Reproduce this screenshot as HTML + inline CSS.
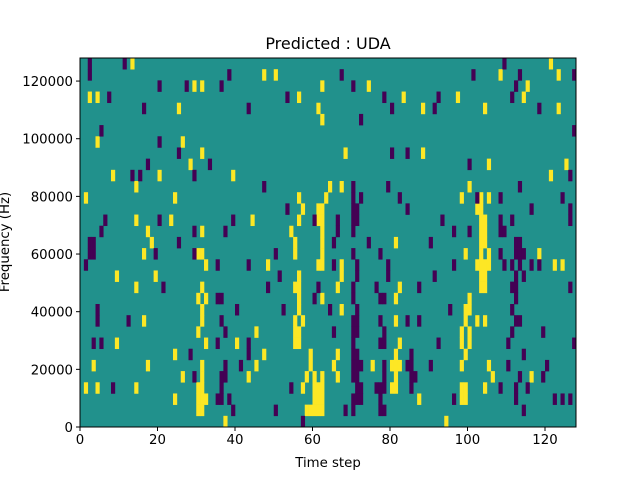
<!DOCTYPE html>
<html><head><meta charset="utf-8"><style>
html,body{margin:0;padding:0;background:#fff;}
svg{display:block;font-family:"DejaVu Sans","Liberation Sans",sans-serif;}
</style></head><body>
<svg id="chart" width="640" height="480" viewBox="0 0 640 480" xmlns="http://www.w3.org/2000/svg">
<rect width="640" height="480" fill="#fff"/>
<text x="328" y="49" font-size="16" text-anchor="middle" fill="#000">Predicted : UDA</text>
<g id="plot"></g>
<g id="axes"></g>
<text x="328" y="467" font-size="13.3" text-anchor="middle" fill="#000">Time step</text>
<text transform="translate(9,242) rotate(-90)" font-size="13.3" text-anchor="middle" fill="#000">Frequency (Hz)</text>
</svg>
<script>
// Data: rows listed from top (row 0 = highest frequency bin), value = time step columns
const numTimeSteps = 128;
const numFreqBins = 33;
const freqMax = 128000;
const xTickLabels = [0, 20, 40, 60, 80, 100, 120];
const yTickLabels = [0, 20000, 40000, 60000, 80000, 100000, 120000];
const highCells = [
[13,121],[47,50,108,123],[29,31,62,74,115],[2,4,56,83,97,114],[25,61,88,104,123],
[62],[],[4,26],[31,68,88],[28,105,125],[8,20,39,121],[14,64,67,100],
[1,24,56,63,98,103,105],[57,61,62,102,103],[14,23,44,56,61,62,103,104],[17,31,54,62,103,104],
[18,55,62,81,103,104],[16,30,31,55,62,99,103,105,118],[32,48,61,62,67,102,103,104,105,122,124],
[9,19,56,67,103,104],[14,31,55,56,66,82,103,104],[30,32,56,62,81,100],[31,56,67,99,100],
[16,31,55,57,81,99,102,104],[30,45,55,56,98,100],[9,32,40,55,56,82,98,100],[24,47,59,66,81,99],
[3,17,31,45,59,65,75,80,81,82,98,105],[26,31,43,58,60,62,66,81,106,116],
[1,4,14,30,31,57,60,61,62,80,81,98,99,104],[24,30,31,32,60,61,62,87,98,99],
[30,31,58,59,60,61,62],[37,94]
];
const lowCells = [
[2,11,109],[2,38,67,101,113,127],[20,27,36,70,112],[7,53,78,92,111],[16,43,80,91,118],
[72],[5,127],[20],[25,80,84],[17,33,100],[13,15,29,126],[47,70,79,113],
[70,72,82,102,108,124],[53,70,71,84,116,126],[6,20,39,60,66,70,71,93,108,111,126],
[5,29,37,66,70,96,100,108,109],[2,3,25,65,74,90,112,113],[2,3,19,29,50,70,77,108,112,113,114],
[1,35,43,65,71,79,96,109,111,113,116,118],[51,71,79,91,112,114],[21,48,61,70,76,87,111,112,126],
[35,36,60,70,77,78,112],[4,40,52,64,71,95,111],[4,12,36,70,71,77,84,87,112,113],
[37,65,70,71,78,111,119],[3,5,35,43,70,77,78,92,110,127],[28,43,70,71,85,114],
[37,41,70,71,72,78,84,85,90,110,120],[29,36,37,70,71,78,85,86,113,119],
[8,36,54,71,72,76,77,78,85,108,112,115],[35,36,38,70,71,72,77,96,112,122,124,126],
[39,50,68,70,77,78,114],[57]
];

const NS = "http://www.w3.org/2000/svg";
const L = 80, R = 576, T = 58, B = 427;
const xScale = t => L + (t / numTimeSteps) * (R - L);
const yScale = f => B - (f / freqMax) * (B - T);
const binH = freqMax / numFreqBins;
const plot = document.getElementById('plot');
const axes = document.getElementById('axes');

function mk(tag, attrs, parent) {
  const e = document.createElementNS(NS, tag);
  for (const k in attrs) e.setAttribute(k, attrs[k]);
  parent.appendChild(e);
  return e;
}
const bg = mk('rect', {x: L, y: T, width: R - L, height: B - T, fill: '#21918c'}, plot);



function drawCells(list, color, name) {
  list.forEach((cols, r) => {
    const bin = numFreqBins - 1 - r;
    cols.forEach(c => {
      const x0 = xScale(c), x1 = xScale(c + 1);
      const y0 = yScale((bin + 1) * binH), y1 = yScale(bin * binH);
      const cell = mk('rect', {x: x0, y: y0, width: x1 - x0 + 0.3, height: y1 - y0 + 0.3, fill: color}, plot);
      
      
    });
  });
}
drawCells(highCells, '#fde725', 'heatmap-cell-high');
drawCells(lowCells, '#440154', 'heatmap-cell-low');

const frame = mk('rect', {x: L, y: T, width: R - L, height: B - T, fill: 'none', stroke: '#000', 'stroke-width': 1}, axes);



xTickLabels.forEach(v => {
  const x = xScale(v);
  const tk = mk('line', {x1: x, x2: x, y1: B, y2: B + 4, stroke: '#000'}, axes);
  
  
  const tx = mk('text', {x: x, y: B + 17, 'font-size': 13.3, 'text-anchor': 'middle', fill: '#000'}, axes);
  tx.textContent = v;
  
  
});
yTickLabels.forEach(v => {
  const y = yScale(v);
  const tk = mk('line', {x1: L - 4, x2: L, y1: y, y2: y, stroke: '#000'}, axes);
  
  
  const tx = mk('text', {x: L - 7, y: y + 5, 'font-size': 13.3, 'text-anchor': 'end', fill: '#000'}, axes);
  tx.textContent = v;
  
  
});
</script>
</body></html>
